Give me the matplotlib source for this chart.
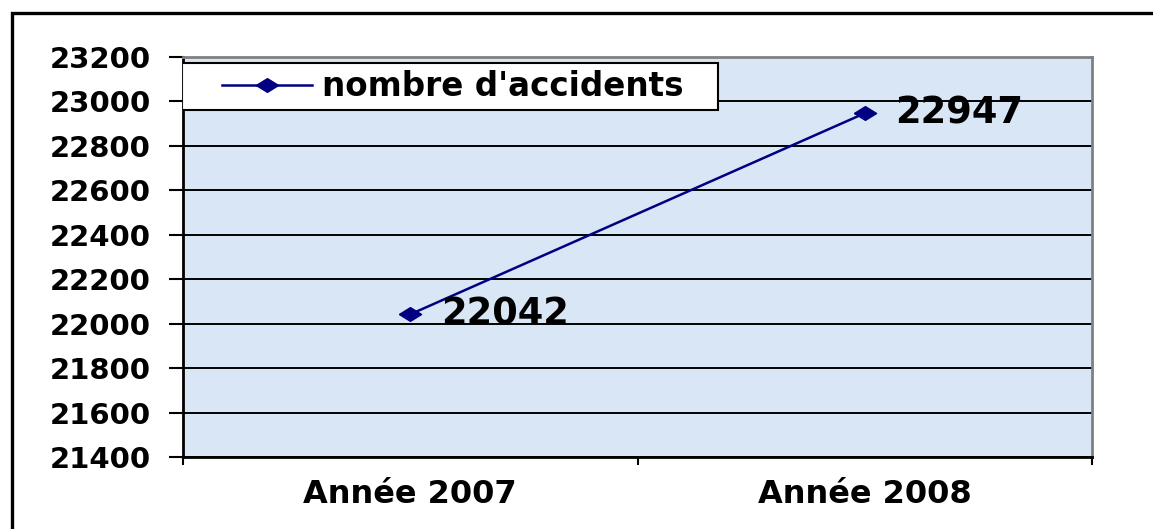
import matplotlib.pyplot as plt
from matplotlib.patches import Rectangle

# donnees
annees = ['Année 2007', 'Année 2008']
accidents = [22042, 22947]
serie = "nombre d'accidents"
y_ticks = list(range(21400, 23201, 200))

plt.rcParams['font.family'] = ['DejaVu Sans']
plt.rcParams['font.weight'] = 'bold'

fig = plt.figure(figsize=(11.53, 5.29), dpi=100)

# cadre exterieur
fig.patches.append(Rectangle((12/1153, -0.2), 1.2, 0.2 + 1 - 13/529, transform=fig.transFigure,
                             fill=False, ec='black', lw=2.4, clip_on=False))

ax = fig.add_axes([183/1153, 1 - 457/529, 909/1153, 400/529])
ax.set_facecolor('#d9e6f6')

x = list(range(len(annees)))
diamant = [(-1, 0), (0, 0.62), (1, 0), (0, -0.62), (-1, 0)]
ax.plot(x, accidents, color='#000080', lw=1.8, marker=diamant, markersize=16,
        markerfacecolor='#000080', markeredgecolor='#000080', label=serie, zorder=3)

for xi, v in zip(x, accidents):
    ax.annotate(str(v), (xi, v), xytext=(22, 0), textcoords='offset points',
                ha='left', va='center', fontsize=26.5, fontweight='bold', zorder=4)

ax.set_xlim(-0.5, len(annees) - 0.5)
ax.set_ylim(21400, 23200)
ax.set_yticks(y_ticks)
ax.yaxis.grid(True, color='black', lw=1.4)
ax.set_axisbelow(True)

ax.set_xticks([-0.5, 0.5, 1.5])
ax.set_xticklabels([])
ax.set_xticks(x, minor=True)
ax.set_xticklabels(annees, minor=True, fontsize=23, fontweight='bold')
ax.tick_params(axis='x', which='major', direction='out', length=6, width=1.5)
ax.tick_params(axis='x', which='minor', length=0, pad=16)
ax.tick_params(axis='y', direction='out', length=10, width=1.5, pad=13, labelsize=21)

for s in ['left', 'bottom']:
    ax.spines[s].set_color('black')
    ax.spines[s].set_linewidth(2)
for s in ['top', 'right']:
    ax.spines[s].set_color('#808080')
    ax.spines[s].set_linewidth(2)

# legende
ax.add_patch(Rectangle((-0.001, 0.8675), 0.5896, 0.1175, transform=ax.transAxes,
                       fc='white', ec='black', lw=1.5, zorder=4))
ax.legend(loc='center left', bbox_to_anchor=(0.043, 0.926), frameon=False,
          borderpad=0, borderaxespad=0, handlelength=2.75, handletextpad=0.32,
          prop={'size': 23.5, 'weight': 'bold'})

fig.savefig('out.png', dpi=100)
